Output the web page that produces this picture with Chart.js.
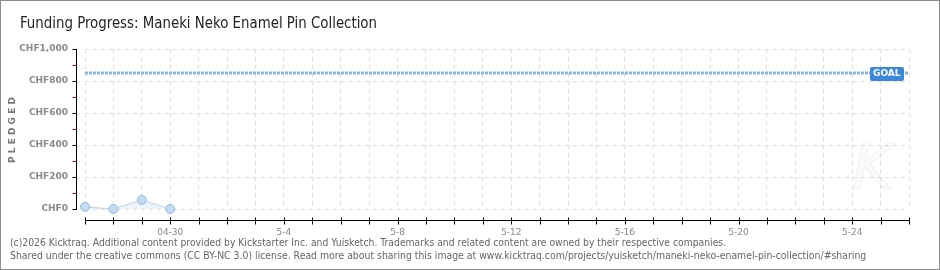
<!DOCTYPE html>
<html>
<head>
<meta charset="utf-8">
<script src="https://cdn.jsdelivr.net/npm/chart.js@4.4.1/dist/chart.umd.min.js"></script>
<style>
    html, body { margin: 0; padding: 0; background: #fff; }
    #wrap { position: relative; width: 940px; height: 270px; overflow: hidden; background: #fff; }
    #grafik { position: absolute; left: 0; top: 0; }
    #bingkai { position: absolute; left: 0; top: 0; width: 940px; height: 270px; box-sizing: border-box; border: 1px solid #8c8c8c; pointer-events: none; }
    #judul { position: absolute; left: 20px; top: 13px; font-family: "DejaVu Sans Condensed", "DejaVu Sans", sans-serif; font-size: 16px; color: #222; white-space: nowrap; transform-origin: 0 0; }
    .kaki { position: absolute; left: 10px; font-family: "DejaVu Sans", sans-serif; font-size: 10px; color: #666; white-space: nowrap; transform-origin: 0 0; }
</style>
</head>
<body>
<div id="wrap">
    <canvas id="grafik" width="940" height="270"></canvas>
    <div id="judul">Funding Progress: Maneki Neko Enamel Pin Collection</div>
    <div class="kaki" id="kaki1" style="top:237px">(c)2026 Kicktraq. Additional content provided by Kickstarter Inc. and Yuisketch. Trademarks and related content are owned by their respective companies.</div>
    <div class="kaki" id="kaki2" style="top:250px">Shared under the creative commons (CC BY-NC 3.0) license. Read more about sharing this image at www.kicktraq.com/projects/yuisketch/maneki-neko-enamel-pin-collection/#sharing</div>
    <div id="bingkai"></div>
</div>
<script>
// tanggal kampanye (kategori sumbu x)
const tanggal = ['04-27', '04-28', '04-29', '04-30',
    '5-1', '5-2', '5-3', '5-4', '5-5', '5-6', '5-7', '5-8', '5-9', '5-10',
    '5-11', '5-12', '5-13', '5-14', '5-15', '5-16', '5-17', '5-18', '5-19', '5-20',
    '5-21', '5-22', '5-23', '5-24', '5-25', '5-26'];
// dana terkumpul (CHF) per hari
const pledged = [13, 0, 57, 0];
const goal = 850;
const yTicks = [0, 200, 400, 600, 800, 1000];
const yMinor = [100, 300, 500, 700, 900];

function pasLebar(id, lebar) {
    const el = document.getElementById(id);
    el.style.transform = 'scaleX(' + (lebar / el.offsetWidth) + ')';
}
pasLebar('judul', 357);
pasLebar('kaki1', 716);
pasLebar('kaki2', 856);

const sumbuPlugin = {
    id: 'sumbu',
    afterDraw: function (chart) {
        const ctx = chart.ctx;
        const ca = chart.chartArea;
        const x = chart.scales.x;
        const y = chart.scales.y;
        ctx.save();
        ctx.lineWidth = 1;

        // sumbu y
        const ax = Math.round(ca.left) - 9 + 0.5;
        ctx.strokeStyle = '#000';
        ctx.beginPath();
        ctx.moveTo(ax, Math.round(y.getPixelForValue(yTicks[yTicks.length - 1])));
        ctx.lineTo(ax, Math.round(y.getPixelForValue(0)) + 1);
        ctx.stroke();
        yTicks.concat(yMinor).forEach(function (v) {
            const py = Math.round(y.getPixelForValue(v)) + 0.5;
            ctx.strokeStyle = (v % 200 === 0) ? '#000' : '#e00000';
            ctx.beginPath();
            ctx.moveTo(ax - 4, py);
            ctx.lineTo(ax, py);
            ctx.stroke();
        });

        // sumbu x
        const ay = Math.round(ca.bottom) + 11 + 0.5;
        ctx.strokeStyle = '#000';
        ctx.beginPath();
        ctx.moveTo(x.getPixelForValue(0), ay);
        ctx.lineTo(x.getPixelForValue(tanggal.length - 1) + 1, ay);
        ctx.stroke();
        tanggal.forEach(function (t, i) {
            const px = Math.round(x.getPixelForValue(i)) + 0.5;
            ctx.beginPath();
            ctx.moveTo(px, ay - 3);
            ctx.lineTo(px, ay + 4);
            ctx.stroke();
        });

        // label GOAL
        const gy = Math.round(y.getPixelForValue(goal));
        const kanan = Math.round(x.getPixelForValue(tanggal.length - 1)) - 5;
        ctx.fillStyle = '#3b87d8';
        ctx.beginPath();
        ctx.roundRect(kanan - 34, gy - 6, 34, 14, 2);
        ctx.fill();
        ctx.fillStyle = '#fff';
        ctx.font = 'bold 9px "DejaVu Sans"';
        ctx.textBaseline = 'middle';
        ctx.textAlign = 'left';
        ctx.fillText('GOAL', kanan - 31, gy + 1);

        // watermark
        ctx.strokeStyle = 'rgba(0,0,0,0.03)';
        ctx.lineWidth = 2;
        ctx.fillStyle = 'rgba(0,0,0,0.015)';
        ctx.font = 'italic 62px "DejaVu Sans"';
        ctx.textAlign = 'center';
        ctx.fillText('K', x.getPixelForValue(tanggal.length - 2) - 8, y.getPixelForValue(230));
        ctx.strokeText('K', x.getPixelForValue(tanggal.length - 2) - 8, y.getPixelForValue(230));

        // judul sumbu y
        ctx.translate(13, 130);
        ctx.rotate(-Math.PI / 2);
        ctx.fillStyle = '#777';
        ctx.font = 'bold 9px "DejaVu Sans"';
        ctx.textAlign = 'center';
        ctx.fillText('P L E D G E D', 0, 0);
        ctx.restore();
    }
};

new Chart('grafik', {
    type: 'line',
    data: {
        labels: tanggal,
        datasets: [{
            label: 'Pledged',
            data: pledged,
            borderColor: '#b7d2f0',
            borderWidth: 1,
            backgroundColor: 'rgba(205, 224, 246, 0.35)',
            fill: 'origin',
            pointRadius: 4.5,
            pointBackgroundColor: '#c4dbf5',
            pointBorderColor: '#98b9e0',
            pointBorderWidth: 1,
            tension: 0,
            clip: false,
            order: 1
        }, {
            label: 'Goal',
            data: [{ x: tanggal[0], y: goal }, { x: tanggal[tanggal.length - 1], y: goal }],
            borderColor: '#8db3e2',
            borderWidth: 3,
            borderDash: [3, 1],
            pointRadius: 0,
            fill: false,
            order: 2
        }]
    },
    options: {
        responsive: false,
        animation: false,
        events: [],
        layout: { padding: { left: 0, right: 31, top: 49, bottom: 0 } },
        plugins: {
            legend: { display: false },
            title: { display: false },
            tooltip: { enabled: false }
        },
        scales: {
            x: {
                offset: false,
                afterFit: function (s) { s.height = 61; },
                border: { display: false, dash: [4, 4] },
                grid: { color: '#dedede', drawTicks: false },
                ticks: {
                    autoSkip: false,
                    maxRotation: 0,
                    padding: 18,
                    color: '#8a8a8a',
                    font: { family: 'DejaVu Sans', size: 9 },
                    callback: function (value, index) {
                        return (index % 4 === 3) ? tanggal[index] : '';
                    }
                }
            },
            y: {
                min: 0,
                max: 1000,
                afterFit: function (s) { s.width = 85; },
                afterBuildTicks: function (s) { s.ticks = yTicks.map(function (v) { return { value: v }; }); },
                border: { display: false, dash: [4, 4] },
                grid: { color: '#dedede', drawTicks: false },
                ticks: {
                    padding: 17,
                    color: '#8a8a8a',
                    font: { family: 'DejaVu Sans', size: 9, weight: 'bold' },
                    callback: function (value) {
                        return 'CHF' + value.toLocaleString('en-US');
                    }
                }
            }
        }
    },
    plugins: [sumbuPlugin]
});
</script>
</body>
</html>
